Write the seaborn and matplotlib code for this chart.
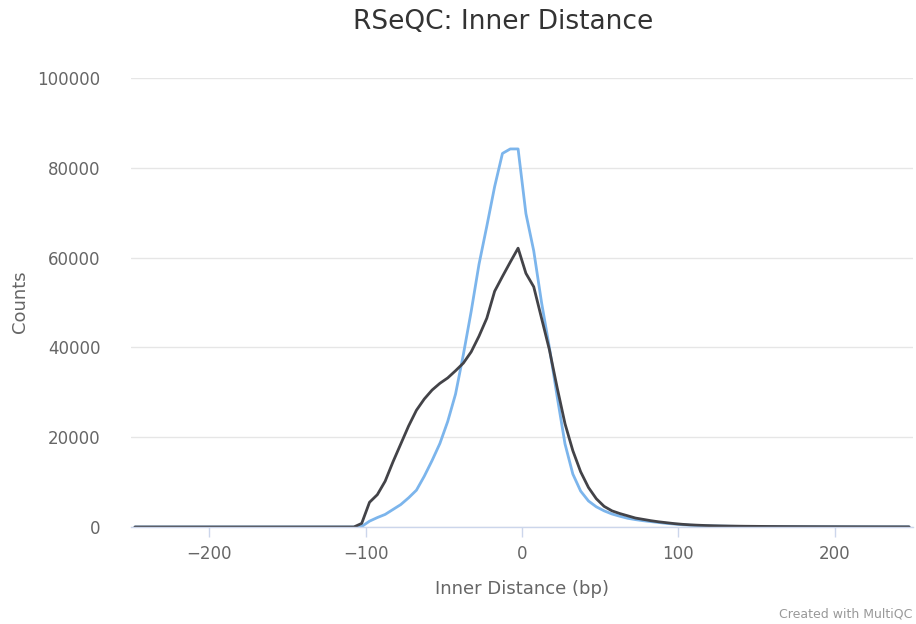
import numpy as np
import pandas as pd
import matplotlib
matplotlib.use("Agg")
import matplotlib.pyplot as plt
import seaborn as sns

# bin centres (5 bp bins)
inner_distance = np.arange(-247.5, 250, 5)

# counts per bin
# -247.5 .. -107.5 are empty for both samples
left_zeros = [0, 0, 0, 0, 0, 0, 0, 0, 0, 0, 0, 0, 0, 0, 0, 0, 0, 0, 0, 0,
              0, 0, 0, 0, 0, 0, 0, 0, 0]

sample_blue = left_zeros + [
    100, 1300, 2100, 2800, 3900, 5000, 6500, 8200, 11300, 14800,
    18600, 23500, 29600, 38400, 48000, 58500, 67000, 75800, 83200, 84200,
    84200,
    69800, 61500, 50000, 40000, 29000, 18500, 11800, 8000, 5800, 4500,
    3600, 2900, 2400, 1950, 1650, 1400, 1200, 1000, 800, 650,
    500, 400, 320, 260,
    220, 190, 160, 140, 120, 105, 95, 85, 75, 68, 62, 56, 50, 46, 42, 38,
    35, 32, 30, 28, 26, 24, 22, 20, 19, 18,
]

sample_dark = left_zeros + [
    800, 5500, 7200, 10200, 14500, 18500, 22500, 26000, 28500, 30500,
    32000, 33200, 34800, 36500, 39000, 42500, 46500, 52500, 55800, 59000,
    62100,
    56500, 53500, 46500, 39500, 31000, 23000, 17000, 12300, 8800, 6300,
    4600, 3600, 3000, 2500, 2000, 1700, 1400, 1150, 950, 750,
    600, 480, 400, 330,
    280, 240, 210, 185, 165, 150, 135, 120, 110, 100, 92, 85, 78, 72, 66,
    61, 56, 52, 48, 45, 42, 39, 36, 34, 32, 30,
]

sample_names = ["Sample 1", "Sample 2"]
colors = {"Sample 1": "#7cb5ec", "Sample 2": "#434348"}

df = pd.concat([
    pd.DataFrame({"x": inner_distance, "count": sample_blue, "sample": sample_names[0]}),
    pd.DataFrame({"x": inner_distance, "count": sample_dark, "sample": sample_names[1]}),
])

sns.set_style("white")
plt.rcParams["font.family"] = ["DejaVu Sans"]

fig = plt.figure(figsize=(9.16, 6.24), dpi=100)
ax = fig.add_axes([131 / 916, 1 - 527 / 624, (913 - 131) / 916, (527 - 78) / 624])

sns.lineplot(data=df, x="x", y="count", hue="sample", palette=colors,
             linewidth=2.0, legend=False, ax=ax, zorder=3)

ax.set_xlim(-250, 250)
ax.set_ylim(0, 100000)
ax.set_xticks([-200, -100, 0, 100, 200])
ax.set_xticklabels(["\u2212200", "\u2212100", "0", "100", "200"])
ax.set_yticks([0, 20000, 40000, 60000, 80000, 100000])
ax.set_yticklabels(["0", "20000", "40000", "60000", "80000", "100000"])

ax.yaxis.grid(True, color="#e6e6e6", linewidth=1)
ax.xaxis.grid(False)
for s in ["top", "right", "left"]:
    ax.spines[s].set_visible(False)
ax.spines["bottom"].set_color("#ccd6eb")
ax.spines["bottom"].set_linewidth(1)
ax.spines["bottom"].set_zorder(4)

ax.tick_params(axis="x", colors="#666666", labelsize=12, length=7,
               width=1, color="#ccd6eb", pad=6, bottom=True)
ax.tick_params(axis="y", colors="#666666", labelsize=12, length=0, pad=22)
ax.set_xlabel("")
ax.set_ylabel("")

fig.text(503 / 916, 1 - 22 / 624, "RSeQC: Inner Distance", ha="center",
         va="center", fontsize=19, color="#333333")
fig.text(20 / 916, 1 - 302 / 624, "Counts", rotation=90, ha="center",
         va="center", fontsize=13, color="#666666")
fig.text(522 / 916, 1 - 589 / 624, "Inner Distance (bp)", ha="center",
         va="center", fontsize=13, color="#666666")
fig.text(912 / 916, 1 - 614 / 624, "Created with MultiQC", ha="right",
         va="center", fontsize=9, color="#999999")

fig.savefig("out.png", dpi=100)
